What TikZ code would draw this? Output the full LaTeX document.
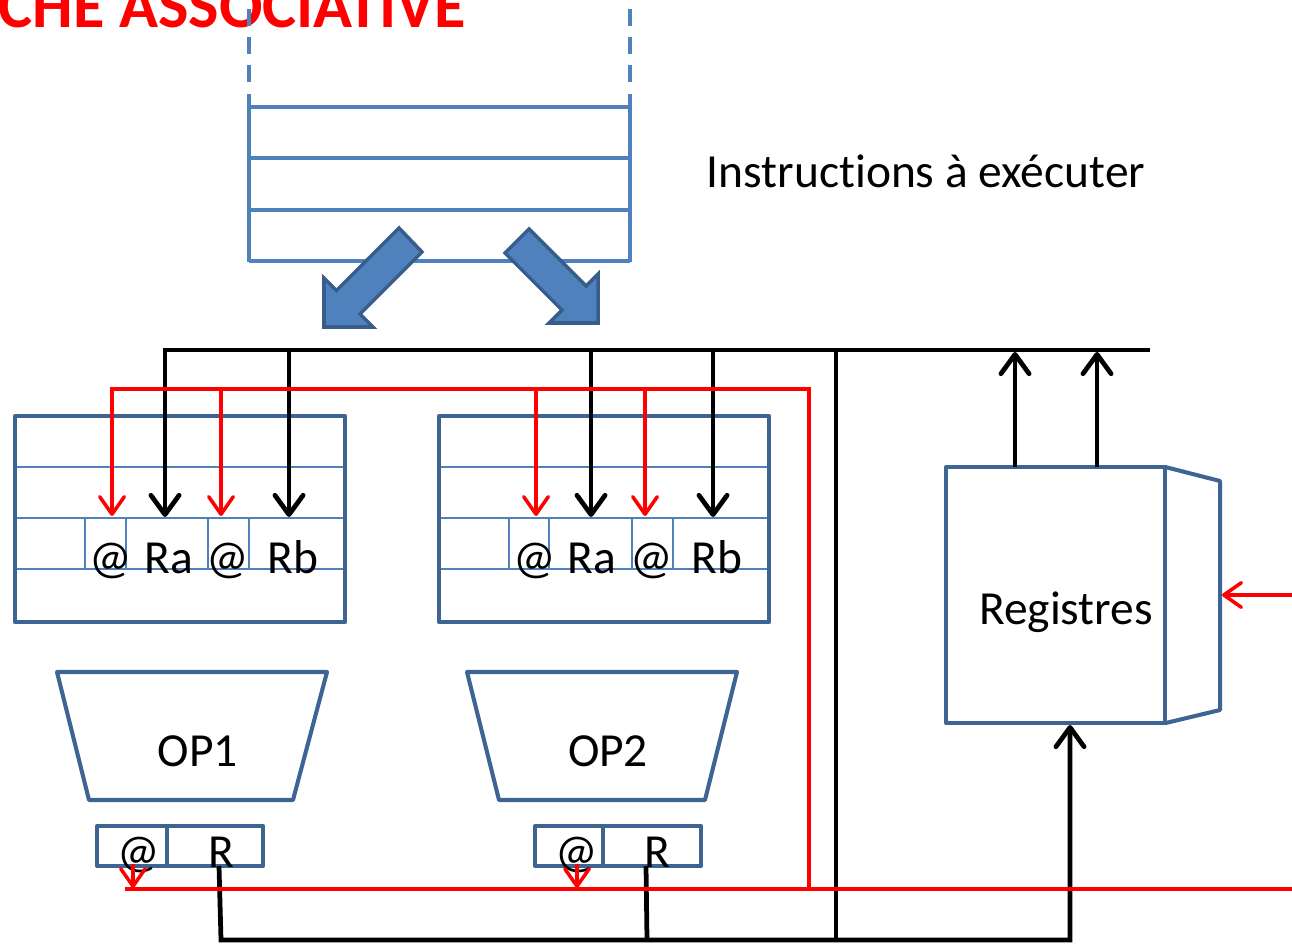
\documentclass[tikz,border=0pt]{standalone}
\usepackage{fontspec}
\setmainfont[Ligatures=NoCommon]{Carlito}
\usetikzlibrary{arrows.meta,calc}
\definecolor{qblue}{HTML}{4F81BD}
\definecolor{dblue}{HTML}{3E6493}
\definecolor{ablue}{HTML}{385D8A}
\definecolor{rred}{HTML}{FF0000}
\tikzset{
  bus/.style={line width=1.35pt, draw=black},
  rbus/.style={line width=1pt, draw=rred},
  blk/.style={bus, -{Straight Barb[length=5.5pt,width=8pt,line cap=round,line join=round]}},
  rarr/.style={rbus, -{Straight Barb[length=5pt,width=7pt,line cap=round,line join=round]}},
  boxout/.style={draw=dblue, line width=1.15pt, line join=round, inner sep=0pt, outer sep=0pt},
  innerln/.style={draw=qblue, line width=0.6pt},
  qline/.style={draw=qblue, line width=1.05pt},
  lbl/.style={font=\fontsize{13.5}{16}\selectfont, inner sep=0pt, anchor=base},
  blockarrow/.style={fill=qblue, draw=ablue, line width=1pt, line join=miter},
}
\begin{document}
\begin{tikzpicture}[x=0.01cm,y=-0.01cm]
\useasboundingbox (0,0) rectangle (1292,943);

% title
\node[font=\fontsize{18.3}{20}\selectfont\bfseries, text=rred, anchor=base west, inner sep=0pt] (title) at (-2,28) {CHE ASSOCIATIVE};

% instruction queue
\draw[qline, dash pattern=on 4.9pt off 3pt] (249,9) -- (249,82);
\draw[qline, dash pattern=on 4.9pt off 3pt] (630,9) -- (630,82);
\draw[qline] (249,94) -- (249,262);
\draw[qline] (630,94) -- (630,262);
\foreach \y in {107,158,210,261} \draw[qline] (249,\y) -- (630,\y);

\node[lbl] (instr) at (926,188) {Instructions à exécuter};

% block arrows
\draw[blockarrow] (399,228) -- (336.5,290.5) -- (324,278) -- (324,327) -- (373,327) -- (360,314) -- (422,252) -- cycle;
\draw[blockarrow] (529,229) -- (586,286) -- (598,274) -- (598,323) -- (549,323) -- (562,310) -- (505,253) -- cycle;

% reservation stations
\foreach \n/\x/\da/\db/\dc/\dd in {rs1/15/85/126/208/249, rs2/439/509/549/632/673}{
  \foreach \y in {467,518,569} \draw[innerln] (\x,\y) -- ++(330,0);
  \foreach \d in {\da,\db,\dc,\dd} \draw[innerln] (\d,518) -- (\d,569);
  \node[boxout, draw, minimum width=3.3cm, minimum height=2.06cm, anchor=north west] (\n) at (\x,416) {};
}

% labels in stations
\node[lbl] (a1) at (111,573) {@};
\node[lbl] (ra1) at (169,573) {Ra};
\node[lbl] (b1) at (228,573) {@};
\node[lbl] (rb1) at (293,573) {Rb};
\node[lbl] (a2) at (535,573) {@};
\node[lbl] (ra2) at (592,573) {Ra};
\node[lbl] (b2) at (652,573) {@};
\node[lbl] (rb2) at (717,573) {Rb};

% operators
\draw[boxout] (57,672) -- (327,672) -- (293,800) -- (89,800) -- cycle;
\node[lbl] (op1) at (198,766) {OP1};
\draw[boxout] (467,672) -- (737,672) -- (705,800) -- (499,800) -- cycle;
\node[lbl] (op2) at (608,766) {OP2};

% result boxes
\node[boxout, draw, minimum width=1.66cm, minimum height=0.4cm, anchor=north west] (res1) at (97,826) {};
\draw[boxout] (167,826) -- (167,866);
\node[boxout, draw, minimum width=1.66cm, minimum height=0.4cm, anchor=north west] (res2) at (535,826) {};
\draw[boxout] (603,826) -- (603,866);
\node[lbl] (at1) at (139,867) {@};
\node[lbl] (r1) at (221,867) {R};
\node[lbl] (at2) at (577,867) {@};
\node[lbl] (r2) at (657,867) {R};

% registers
\node[boxout, draw, minimum width=2.19cm, minimum height=2.56cm, anchor=north west] (regs) at (946,467) {};
\draw[boxout] (regs.north east) -- (1220,481) -- (1220,710) -- (regs.south east);
\node[lbl] (regt) at (1066,624) {Registres};

% black bus
\draw[blk] (1150,350) -- (165,350) -- (165,517);
\foreach \x in {289,591,713} \draw[blk] (\x,350) -- (\x,517);
\draw[bus] (836,350) -- (836,940);
\draw[blk] (1015,467) -- (1015,352);
\draw[blk] (1097,467) -- (1097,352);
\draw[blk] (219,866) -- (221,940) -- (1070,940) -- (1070,725);
\draw[bus] (646,866) -- (647,940);

% red bus
\draw[rarr] (809,889) -- (809,389) -- (112,389) -- (112,516);
\foreach \x in {221,536,645} \draw[rarr] (\x,389) -- (\x,516);
\draw[rbus] (125,889) -- (1292,889);
\draw[rarr] (133,864) -- (133,888);
\draw[rarr] (577,864) -- (577,888);
\draw[rarr] (1292,595) -- (1222,595);
\end{tikzpicture}
\end{document}
